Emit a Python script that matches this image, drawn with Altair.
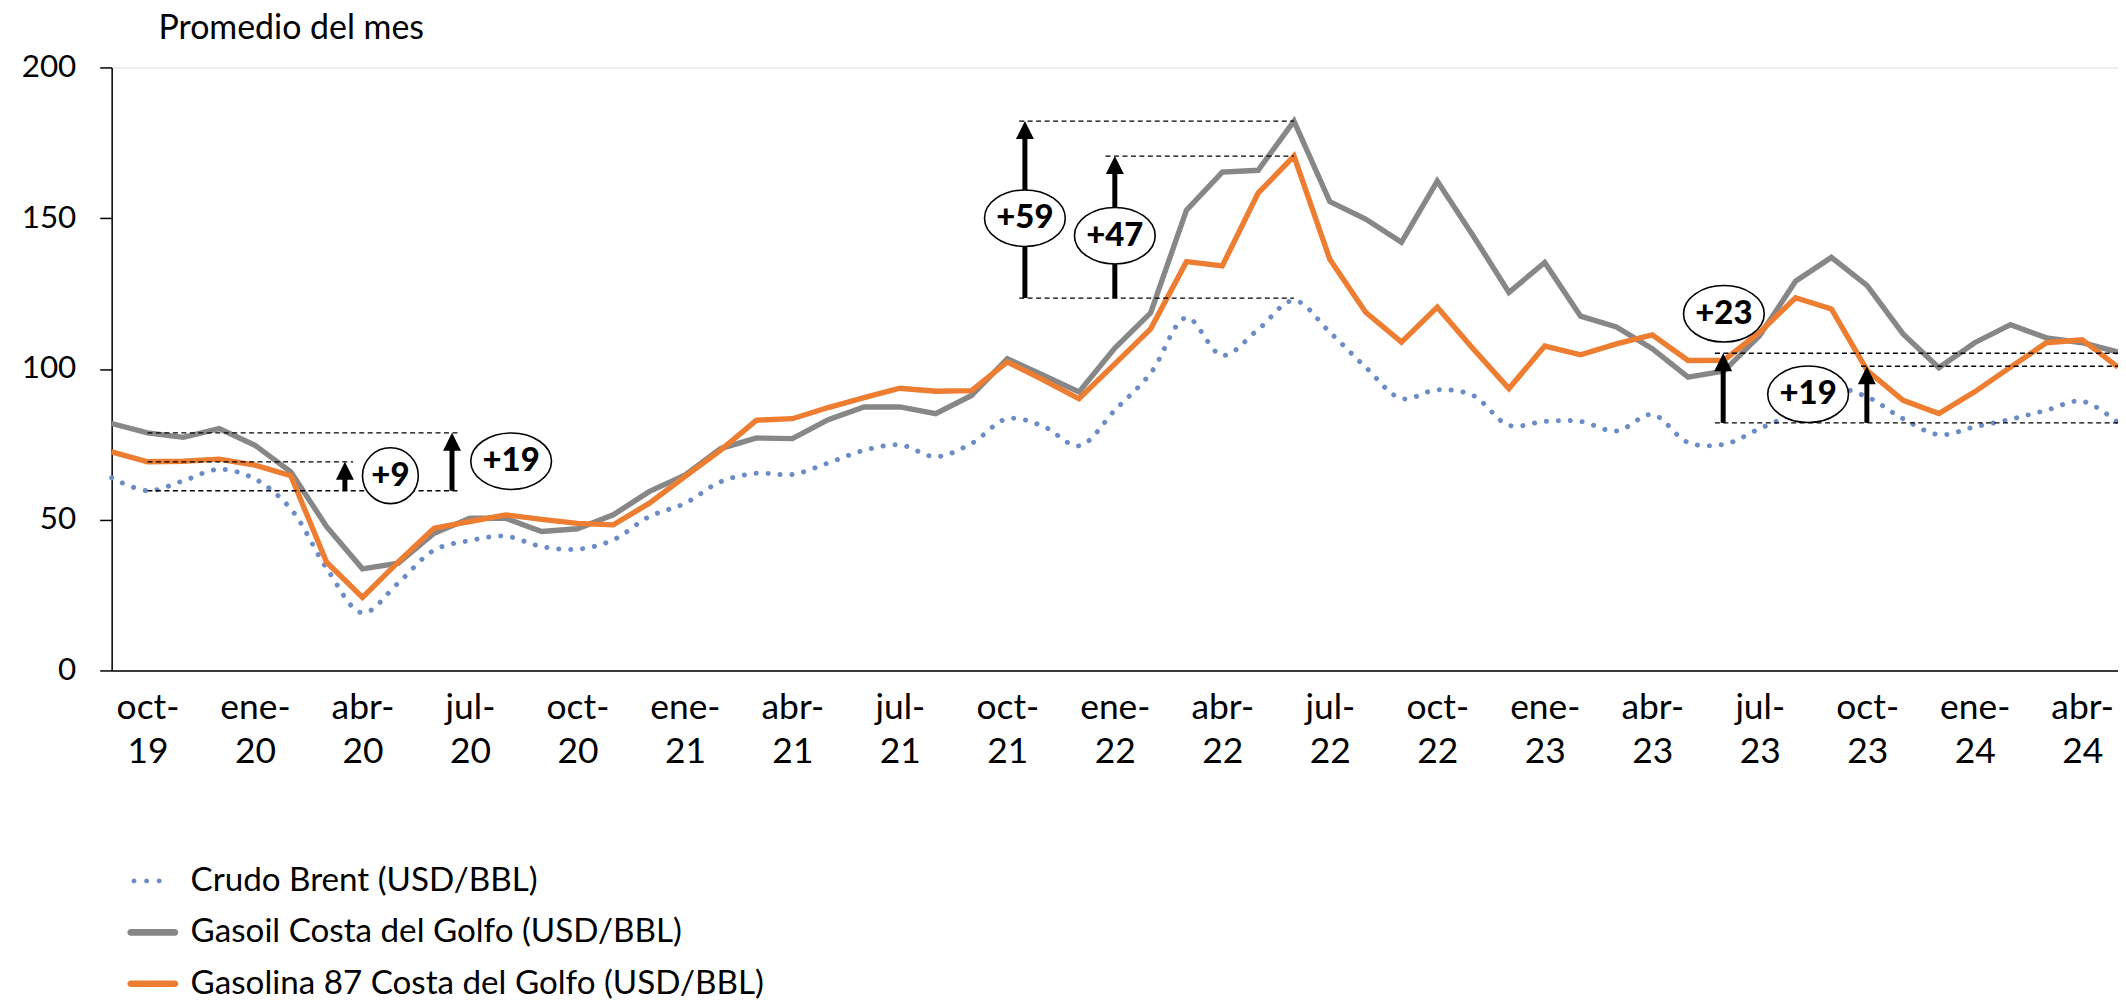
import json
import altair as alt
import pandas as pd

# ---------------- data (monthly, sep-19 .. may-24) ----------------
series_names = [
    "Crudo Brent (USD/BBL)",
    "Gasoil Costa del Golfo (USD/BBL)",
    "Gasolina 87 Costa del Golfo (USD/BBL)",
]
brent = [63.9, 59.6, 62.9, 66.7, 63.5, 53.6, 33.9, 19.1, 29.0, 39.9, 43.1, 44.5,
         41.1, 40.2, 43.3, 51.0, 55.4, 62.6, 65.4, 65.0, 68.8, 73.0, 74.8, 70.9,
         75.3, 83.5, 81.0, 74.5, 86.3, 98.6, 117.0, 104.5, 113.1, 122.7, 112.2, 100.6,
         90.2, 93.1, 91.2, 81.3, 82.6, 82.6, 79.4, 84.9, 75.6, 75.0, 80.2, 85.7,
         93.5, 90.7, 83.5, 78.2, 80.8, 83.3, 86.3, 89.3, 82.2]
gasoil = [81.9, 78.8, 77.3, 80.2, 74.7, 65.9, 47.7, 33.7, 35.6, 45.5, 50.5, 50.5,
          46.1, 47.0, 51.6, 59.3, 64.8, 73.6, 77.1, 76.9, 83.2, 87.4, 87.4, 85.2,
          91.2, 103.4, 97.9, 92.4, 106.9, 118.6, 152.7, 165.3, 165.9, 182.2, 155.5, 149.7,
          142.0, 162.3, 144.2, 125.4, 135.3, 117.5, 113.9, 106.7, 97.3, 99.3, 111.1, 129.1,
          137.0, 127.6, 111.6, 100.4, 108.7, 114.7, 110.3, 108.7, 105.6]
gasolina = [72.5, 69.2, 69.4, 70.1, 68.1, 64.6, 35.9, 24.2, 36.0, 47.2, 49.4, 51.6,
            50.1, 48.8, 48.3, 55.4, 64.3, 73.1, 83.0, 83.5, 87.2, 90.5, 93.6, 92.6,
            92.8, 102.3, 96.4, 90.1, 101.7, 113.3, 135.6, 134.2, 158.3, 170.6, 136.4, 118.8,
            108.9, 120.5, 106.7, 93.5, 107.6, 104.7, 108.3, 111.3, 102.8, 102.9, 112.2, 123.6,
            119.9, 99.5, 89.6, 85.2, 92.4, 100.6, 108.7, 109.7, 100.6]

tick_positions = list(range(1, 56, 3))
tick_labels = ["oct-19", "ene-20", "abr-20", "jul-20", "oct-20", "ene-21", "abr-21",
               "jul-21", "oct-21", "ene-22", "abr-22", "jul-22", "oct-22", "ene-23",
               "abr-23", "jul-23", "oct-23", "ene-24", "abr-24"]
y_ticks = [0, 50, 100, 150, 200]

# annotations (x in month index, y in USD/BBL)
dash_x1 = [1, 1, 1, 25.33, 27.74, 25.33, 44.75, 48.83, 44.75]
dash_x2 = [9.73, 6.74, 9.73, 33, 33, 33, 56, 56, 56]
dash_y = [78.8, 69.2, 59.6, 182.2, 170.6, 123.5, 105.2, 100.9, 82.1]

arrow_x = [6.51, 9.50, 25.49, 28.0, 44.98, 48.99]
arrow_lo = [59.6, 59.6, 123.5, 123.5, 82.1, 82.1]
arrow_hi = [69.2, 78.8, 182.2, 170.6, 105.2, 100.9]

label_text = ["+9", "+19", "+59", "+47", "+23", "+19"]
label_x = [7.78, 11.15, 25.49, 28.0, 45.0, 47.35]
label_y = [64.6, 69.4, 150.0, 144.2, 118.3, 91.6]
label_kind = ["circle", "ellipse", "ellipse", "ellipse", "ellipse", "ellipse"]

title_text = "Promedio del mes"

# ---------------- styling ----------------
FONT = "Lato"
col_brent, col_gasoil, col_gasolina = "#6B8CC6", "#878787", "#ED7D31"
colors = [col_brent, col_gasoil, col_gasolina]
K = 0.5523


def ellipse_path(cx, cy, rx, ry):
    return (f"M{cx + rx},{cy} "
            f"C{cx + rx},{cy + K * ry} {cx + K * rx},{cy + ry} {cx},{cy + ry} "
            f"C{cx - K * rx},{cy + ry} {cx - rx},{cy + K * ry} {cx - rx},{cy} "
            f"C{cx - rx},{cy - K * ry} {cx - K * rx},{cy - ry} {cx},{cy - ry} "
            f"C{cx + K * rx},{cy - ry} {cx + rx},{cy - K * ry} {cx + rx},{cy} Z")


def capsule_path(h):
    a = 1 - h
    return (f"M{-a},{-h} L{a},{-h} C{a + K * h},{-h} 1,{-K * h} 1,0 "
            f"C1,{K * h} {a + K * h},{h} {a},{h} L{-a},{h} "
            f"C{-a - K * h},{h} -1,{K * h} -1,0 C-1,{-K * h} {-a - K * h},{-h} {-a},{-h} Z")


dots_path = " ".join(ellipse_path(c, 0, 0.095, 0.095) for c in (-0.74, -0.245, 0.25))
line_path = capsule_path(0.13)
ellipse_shape = ellipse_path(0, 0, 1, 0.70)
arrow_head = "M0,0 L1,2 L-1,2 Z"

# ---------------- frames ----------------
n = len(brent)
df = pd.DataFrame({
    "i": list(range(n)) * 3,
    "v": brent + gasoil + gasolina,
    "series": [series_names[0]] * n + [series_names[1]] * n + [series_names[2]] * n,
})
dash_df = pd.DataFrame({"x1": dash_x1, "x2": dash_x2, "y": dash_y})
arrow_df = pd.DataFrame({"ax": arrow_x, "lo": arrow_lo, "hi": arrow_hi})
arrow_df["shaft_top"] = arrow_df["hi"] - 3.0
lab_df = pd.DataFrame({"lx": label_x, "ly": label_y, "txt": label_text, "kind": label_kind})

xscale = alt.Scale(domain=[0, n - 1], nice=False, zero=False)
yscale = alt.Scale(domain=[0, 200], nice=False)

pairs = [[t[: t.index("-") + 1], t[t.index("-") + 1:]] for t in tick_labels]
label_expr = f"{json.dumps(pairs)}[round((datum.value - {tick_positions[0]}) / 3)]"

x_main = alt.X("i:Q", scale=xscale, axis=alt.Axis(
    values=tick_positions, labelExpr=label_expr, title=None, ticks=False, grid=False,
    domainColor="black", domainWidth=1.5, labelFont=FONT, labelFontSize=35.5,
    labelColor="black", labelPadding=48, labelBaseline="alphabetic",
    labelLineHeight=44, labelOverlap=False, labelFlush=False, labelAlign="center"))
y_main = alt.Y("v:Q", scale=yscale, axis=alt.Axis(
    values=y_ticks, title=None, grid=False, tickSize=12, tickColor="black",
    tickWidth=1.5, domainColor="black", domainWidth=1.5, labelFont=FONT,
    labelFontSize=31.5, labelColor="black", labelPadding=24))


def X(f):
    return alt.X(f, scale=xscale, title=None)


def Y(f):
    return alt.Y(f, scale=yscale, title=None)


base = alt.Chart(df)

brent_line = base.transform_filter(alt.datum.series == series_names[0]).mark_line(
    color=col_brent, strokeWidth=5, strokeDash=[0.1, 11.9], strokeCap="round",
    interpolate="catmull-rom").encode(x=x_main, y=y_main)
gasoil_line = base.transform_filter(alt.datum.series == series_names[1]).mark_line(
    color=col_gasoil, strokeWidth=5.4).encode(x=X("i:Q"), y=Y("v:Q"))
gasolina_line = base.transform_filter(alt.datum.series == series_names[2]).mark_line(
    color=col_gasolina, strokeWidth=5.4).encode(x=X("i:Q"), y=Y("v:Q"))

dashes = alt.Chart(dash_df).mark_rule(
    color="black", strokeWidth=1.3, strokeDash=[5, 3.5], clip=True).encode(
    x=X("x1:Q"), x2="x2:Q", y=Y("y:Q"))
shafts = alt.Chart(arrow_df).mark_rule(color="black", strokeWidth=5).encode(
    x=X("ax:Q"), y=Y("lo:Q"), y2="shaft_top:Q")
heads = alt.Chart(arrow_df).mark_point(
    shape=arrow_head, size=324, filled=True, color="black", opacity=1, strokeWidth=0).encode(
    x=X("ax:Q"), y=Y("hi:Q"))

circles = alt.Chart(lab_df).transform_filter(alt.datum.kind == "circle").mark_point(
    shape="circle", size=3136, filled=True, fill="white", stroke="black",
    strokeWidth=1.6, opacity=1).encode(x=X("lx:Q"), y=Y("ly:Q"))
ellipses = alt.Chart(lab_df).transform_filter(alt.datum.kind == "ellipse").mark_point(
    shape=ellipse_shape, size=6561, filled=True, fill="white", stroke="black",
    strokeWidth=1.6, opacity=1).encode(x=X("lx:Q"), y=Y("ly:Q"))
texts = alt.Chart(lab_df).mark_text(
    font=FONT, fontWeight=900, fontSize=33, color="black",
    align="center", baseline="middle").encode(x=X("lx:Q"), y=Y("ly:Q"), text="txt:N")

title_mark = alt.Chart(pd.DataFrame({"t": [title_text]})).mark_text(
    font=FONT, fontSize=34, color="black", align="left", baseline="alphabetic").encode(
    x=alt.value(47), y=alt.value(-28.5), text="t:N")

legend_def = alt.Legend(
    title=None, orient="none", legendX=15.8, legendY=790.7, direction="vertical",
    labelFont=FONT, labelFontSize=33.3, labelColor="black", labelOffset=12.4,
    rowPadding=9.6, symbolSize=2601, symbolStrokeWidth=0, padding=0, labelLimit=0)
legend_layer = base.transform_filter("false").mark_point(filled=True, opacity=1).encode(
    fill=alt.Fill("series:N", scale=alt.Scale(domain=series_names, range=colors),
                  legend=legend_def),
    shape=alt.Shape("series:N", scale=alt.Scale(domain=series_names,
                                               range=[dots_path, line_path, line_path]),
                    legend=legend_def),
)

chart = alt.layer(
    brent_line, gasoil_line, gasolina_line, dashes, shafts, heads, circles, ellipses,
    texts, title_mark, legend_layer
).properties(
    width=2013, height=605,
    padding={"left": 104, "top": 58, "right": 0, "bottom": 329},
    autosize=alt.AutoSizeParams(type="none"),
).configure_view(stroke=None).configure(background="white")

chart.save("out.html", embed_options={"renderer": "svg", "actions": False})
